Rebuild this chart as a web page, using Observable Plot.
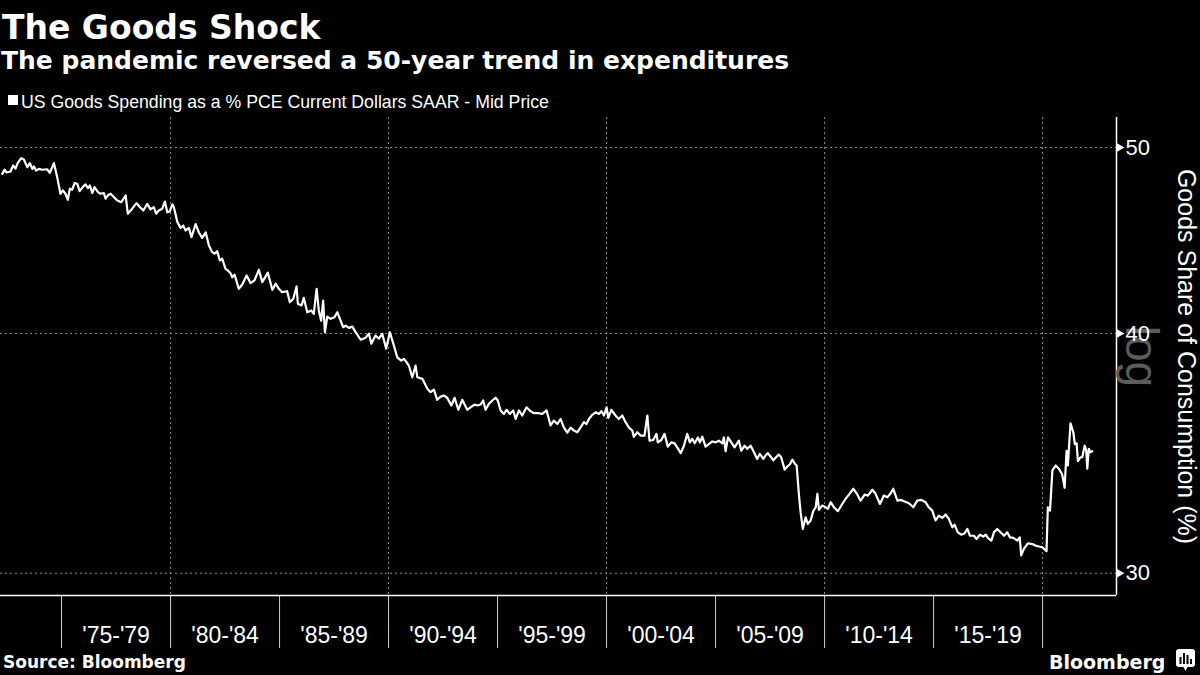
<!DOCTYPE html>
<html>
<head>
<meta charset="utf-8">
<script src="https://cdn.jsdelivr.net/npm/d3@7"></script>
<script src="https://cdn.jsdelivr.net/npm/@observablehq/plot@0.6"></script>
<style>
  html, body { margin: 0; padding: 0; background: #000; }
  #wrap { position: relative; width: 1200px; height: 675px; background: #000; overflow: hidden; color: #fff; }
  .abs { position: absolute; white-space: nowrap; line-height: 1; }
  #title { left: 2px; top: 8px; font: bold 33px "DejaVu Sans"; }
  #subtitle { left: 1px; top: 46px; font: bold 25px "DejaVu Sans"; }
  #legsq { left: 8px; top: 95px; width: 10px; height: 10px; background: #fff; }
  #legtxt { left: 21px; top: 92px; font: 17.7px "Liberation Sans"; }
  #chart { position: absolute; left: 0; top: 117px; }
  #source { left: 3px; top: 652px; font: bold 17px "DejaVu Sans"; }
  #brand { left: 1049px; top: 651px; font: bold 19px "DejaVu Sans"; }
  #icon { left: 1175px; top: 648px; }
</style>
</head>
<body>
<div id="wrap">
  <div id="title" class="abs">The Goods Shock</div>
  <div id="subtitle" class="abs">The pandemic reversed a 50-year trend in expenditures</div>
  <div id="legsq" class="abs"></div>
  <div id="legtxt" class="abs">US Goods Spending as a % PCE Current Dollars SAAR - Mid Price</div>
  <div id="chart"></div>
  <div id="source" class="abs">Source: Bloomberg</div>
  <div id="brand" class="abs">Bloomberg</div>
  <svg id="icon" class="abs" width="22" height="24" viewBox="0 0 22 24">
    <rect x="1" y="1" width="19" height="18" rx="3" fill="#fff"/>
    <path d="M8.5 19 L10.5 23 L12.5 19 Z" fill="#fff"/>
    <rect x="4.5" y="9" width="2" height="7" fill="#000"/>
    <rect x="8" y="5" width="2" height="11" fill="#000"/>
    <rect x="11.5" y="7" width="2" height="9" fill="#000"/>
    <rect x="15" y="11" width="2" height="5" fill="#000"/>
  </svg>
</div>
<script>
// ---- data ----
const years = [
1972.28,1972.39,1972.48,1972.66,1972.78,1972.89,1972.98,1973.15,1973.27,1973.43,1973.55,1973.66,1973.73,1973.84,1973.96,
1974.11,1974.34,1974.46,1974.65,1974.80,1974.95,1975.06,1975.18,1975.29,1975.38,1975.49,1975.60,1975.72,1975.83,1976.00,
1976.10,1976.21,1976.30,1976.41,1976.51,1976.67,1976.79,1976.94,1977.02,1977.12,1977.25,1977.40,1977.56,1977.74,1977.94,
1978.04,1978.24,1978.44,1978.59,1978.75,1978.93,1979.08,1979.23,1979.34,1979.46,1979.62,1979.74,1979.85,1979.97,1980.08,
1980.15,1980.31,1980.46,1980.58,1980.69,1980.84,1980.96,1981.15,1981.30,1981.45,1981.61,1981.76,1981.91,1982.02,1982.14,
1982.26,1982.37,1982.52,1982.63,1982.75,1982.83,1982.94,1983.13,1983.29,1983.49,1983.67,1983.85,1984.05,1984.21,1984.46,
1984.67,1984.82,1984.97,1985.12,1985.35,1985.47,1985.63,1985.78,1985.84,1986.01,1986.11,1986.27,1986.45,1986.57,1986.70,
1986.80,1986.91,1987.00,1987.08,1987.19,1987.34,1987.52,1987.65,1987.80,1987.92,1988.03,1988.18,1988.34,1988.49,1988.72,
1988.95,1989.10,1989.21,1989.40,1989.56,1989.71,1989.89,1990.06,1990.22,1990.40,1990.58,1990.70,1990.83,1990.93,1991.09,
1991.24,1991.32,1991.55,1991.78,1991.93,1992.08,1992.23,1992.39,1992.54,1992.69,1992.88,1993.03,1993.20,1993.38,1993.61,
1993.76,1993.95,1994.07,1994.22,1994.34,1994.45,1994.60,1994.76,1994.91,1995.01,1995.14,1995.29,1995.41,1995.56,1995.72,
1995.83,1995.98,1996.13,1996.33,1996.51,1996.67,1996.89,1997.05,1997.25,1997.43,1997.58,1997.74,1997.89,1998.04,1998.20,
1998.35,1998.50,1998.66,1998.81,1998.96,1999.08,1999.19,1999.34,1999.50,1999.65,1999.76,1999.88,2000.00,2000.08,2000.22,
2000.41,2000.56,2000.72,2000.87,2001.02,2001.18,2001.25,2001.41,2001.56,2001.74,2001.87,2001.97,2002.14,2002.29,2002.35,
2002.51,2002.66,2002.81,2002.97,2003.12,2003.24,2003.40,2003.55,2003.70,2003.82,2003.93,2004.04,2004.19,2004.28,2004.39,
2004.54,2004.69,2004.85,2005.00,2005.15,2005.31,2005.38,2005.46,2005.57,2005.72,2005.87,2006.07,2006.18,2006.33,2006.45,
2006.61,2006.76,2006.91,2007.03,2007.19,2007.29,2007.40,2007.52,2007.65,2007.75,2007.90,2008.01,2008.17,2008.29,2008.41,
2008.52,2008.64,2008.72,2008.82,2008.90,2009.00,2009.13,2009.23,2009.36,2009.48,2009.59,2009.67,2009.74,2009.89,2010.05,
2010.15,2010.28,2010.43,2010.61,2010.81,2010.96,2011.12,2011.32,2011.47,2011.65,2011.84,2011.99,2012.19,2012.34,2012.54,
2012.72,2012.88,2013.03,2013.15,2013.34,2013.49,2013.67,2013.87,2014.07,2014.25,2014.44,2014.63,2014.78,2014.94,2015.09,
2015.24,2015.40,2015.55,2015.70,2015.86,2015.96,2016.11,2016.27,2016.42,2016.55,2016.67,2016.85,2016.97,2017.12,2017.28,
2017.39,2017.49,2017.65,2017.77,2017.92,2018.07,2018.23,2018.38,2018.50,2018.66,2018.84,2018.95,2019.02,2019.14,2019.33,
2019.53,2019.68,2019.83,2019.99,2020.18,2020.24,2020.34,2020.45,2020.60,2020.75,2020.90,2021.01,2021.10,2021.16,2021.28,
2021.41,2021.48,2021.56,2021.62,2021.74,2021.82,2021.93,2022.00,2022.05,2022.12,2022.20,2022.28
];
const share = [
48.44,48.69,48.52,48.58,48.93,48.75,49.05,49.36,49.29,48.83,49.07,48.73,48.87,48.63,48.73,
48.68,48.71,48.50,49.07,48.25,47.30,47.49,47.30,46.96,47.59,47.53,47.91,47.87,47.45,47.72,
47.83,47.62,47.77,47.34,47.68,47.39,47.30,47.34,47.02,47.20,47.30,47.11,46.92,46.82,47.20,
46.18,46.46,46.77,46.55,46.36,46.73,46.42,46.55,46.18,46.36,46.46,46.86,46.26,46.32,46.70,
46.55,45.73,45.40,45.53,45.26,45.40,44.90,45.61,45.15,44.86,45.16,44.45,44.10,44.02,44.15,
43.66,43.75,43.22,43.14,43.00,42.79,42.92,42.20,42.42,42.88,42.49,42.63,43.17,42.54,43.03,
42.15,42.46,42.20,42.03,42.08,41.53,41.70,42.32,41.45,41.37,41.75,41.03,41.12,40.95,42.20,
41.12,40.62,41.61,40.06,40.82,40.71,40.79,41.03,40.62,40.30,40.38,40.27,40.33,40.06,39.70,
39.80,39.99,39.51,39.90,39.75,39.99,39.28,40.06,39.51,38.87,38.72,38.80,38.64,38.49,37.95,
38.49,37.95,37.88,37.43,37.28,37.39,36.94,37.08,37.13,37.03,36.69,37.03,36.50,36.94,36.50,
36.61,36.73,36.69,36.73,36.91,36.50,36.76,36.91,37.03,36.91,36.47,36.32,36.50,36.32,36.47,
36.10,36.47,36.25,36.61,36.44,36.35,36.35,36.32,36.47,35.82,36.03,35.88,36.10,35.74,35.51,
35.73,35.60,35.53,35.74,35.96,35.88,36.10,36.28,36.39,36.32,36.44,36.25,36.61,36.15,36.50,
36.25,36.10,36.25,35.96,35.74,35.60,35.34,35.53,35.39,35.39,36.25,35.17,35.20,35.46,35.10,
35.20,35.46,34.92,35.10,35.06,34.89,34.65,34.96,35.46,35.10,35.25,35.06,35.31,35.10,35.34,
34.92,35.03,35.14,35.10,35.17,35.06,35.31,34.73,35.31,35.10,34.89,35.17,34.75,34.96,34.83,
34.96,34.69,34.41,34.62,34.41,34.55,34.65,34.51,34.35,34.46,34.59,34.48,33.97,34.10,34.19,
34.38,34.21,34.14,33.00,32.28,31.64,32.08,31.83,31.96,32.32,32.47,33.00,32.37,32.54,32.47,
32.41,32.67,32.47,32.32,32.60,32.80,32.97,33.20,33.02,32.73,32.97,32.93,33.16,33.00,32.60,
32.93,32.86,33.02,33.20,32.73,32.76,32.70,32.63,32.47,32.73,32.76,32.67,32.47,32.34,31.96,
32.15,32.06,32.19,32.02,31.70,31.80,31.51,31.42,31.47,31.64,31.38,31.38,31.26,31.42,31.35,
31.42,31.30,31.20,31.51,31.64,31.51,31.38,31.51,31.32,31.30,31.20,31.32,30.65,30.89,31.10,
31.07,31.01,30.98,30.95,30.80,32.47,32.34,33.94,34.14,34.01,33.77,33.24,34.75,34.14,35.91,
35.53,35.03,35.06,34.32,34.48,34.48,34.96,34.78,34.01,34.83,34.69,34.73
];
const yTicks = [30, 40, 50];
const gridYears = [1980, 1990, 2000, 2010, 2020];
const periodBounds = [1975, 1980, 1985, 1990, 1995, 2000, 2005, 2010, 2015, 2020];
const periodLabels = ["'75-'79", "'80-'84", "'85-'89", "'90-'94", "'95-'99", "'00-'04", "'05-'09", "'10-'14", "'15-'19"];
const axisTitle = "Goods Share of Consumption (%)";

// ---- scale settings ----
const xDomain = [1972.2, 2023.39];
const yDomain = [29.21, 51.83];

const data = years.map((t, i) => ({t, v: share[i]}));
const periodMids = periodLabels.map((_, i) => periodBounds[i] + 2.5);

const chart = Plot.plot({
  width: 1200,
  height: 558,
  marginTop: 0,
  marginBottom: 80,
  marginLeft: 0,
  marginRight: 84,
  style: {background: "#000", color: "#fff", fontFamily: "Liberation Sans", overflow: "visible"},
  x: {type: "linear", domain: xDomain, label: null},
  y: {type: "log", domain: yDomain, label: null},
  marks: [
    Plot.ruleY(yTicks, {stroke: "#8a8a8a", strokeDasharray: "2,3", strokeWidth: 1}),
    Plot.ruleX(gridYears, {stroke: "#8a8a8a", strokeDasharray: "2,3", strokeWidth: 1}),
    Plot.axisX({ticks: periodBounds, tickSize: 53, tickFormat: () => "", label: null, stroke: "#cfcfcf", strokeWidth: 1}),
    Plot.axisX({ticks: periodMids, tickSize: 0, tickPadding: 31, fontSize: 23, label: null,
      tickFormat: d => periodLabels[periodMids.indexOf(d)]}),
    Plot.ruleY([yDomain[0]], {stroke: "#fff", strokeWidth: 1.5}),
    Plot.ruleX([xDomain[1]], {stroke: "#fff", strokeWidth: 1.5}),
    Plot.text(["log"], {text: d => d, frameAnchor: "right", textAnchor: "middle", lineAnchor: "middle",
      dx: 24, rotate: 90, fill: "#5c5c5c", fontSize: 46}),
    Plot.axisY({anchor: "right", ticks: yTicks, tickSize: 0, tickPadding: 9, fontSize: 22, label: null,
      tickFormat: d => String(d)}),
    Plot.dot(yTicks, {y: d => d, frameAnchor: "right", symbol: "triangle", rotate: 90, r: 3.2, fill: "#fff", stroke: null, dx: 3}),
    Plot.text([axisTitle], {text: d => d, frameAnchor: "right", textAnchor: "middle", lineAnchor: "middle",
      dx: 69, rotate: 90, fill: "#fff", fontSize: 25}),
    Plot.line(data, {x: "t", y: "v", stroke: "#fff", strokeWidth: 2.2, strokeLinejoin: "round"})
  ]
});
document.getElementById("chart").appendChild(chart);
</script>
</body>
</html>
